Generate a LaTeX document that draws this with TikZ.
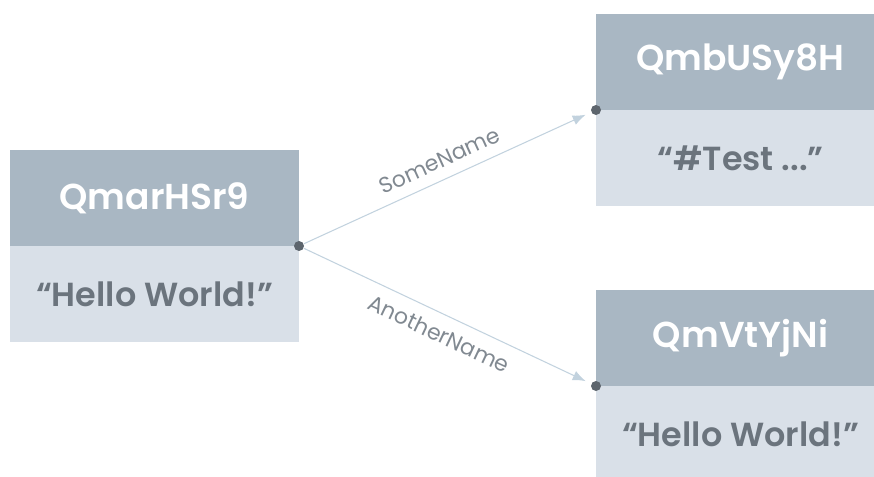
\documentclass[tikz,border=0pt]{standalone}
\usepackage{fontspec}
\IfFontExistsTF{Poppins SemiBold}
  {\setmainfont{Poppins}[BoldFont={Poppins SemiBold}]}
  {\setmainfont{Poppins}}
\usepackage{xcolor}
\definecolor{headgray}{HTML}{A9B7C3}
\definecolor{bodygray}{HTML}{D9E0E8}
\definecolor{textgray}{HTML}{6B747D}
\definecolor{linkblue}{HTML}{C2D2DE}
\definecolor{dotgray}{HTML}{5D656D}
\usetikzlibrary{arrows.meta,positioning}

\begin{document}
\begin{tikzpicture}[
  x=0.2mm,y=-0.2mm,
  hd/.style={fill=headgray,text=white,font=\fontsize{20.5}{24}\selectfont\bfseries,minimum width=57.8mm,minimum height=19.2mm,inner sep=0pt,outer sep=0pt},
  bd/.style={fill=bodygray,text=textgray,font=\fontsize{19}{22}\selectfont\bfseries,minimum width=57.8mm,minimum height=19.2mm,inner sep=0pt,outer sep=0pt},
  dt/.style={circle,fill=dotgray,inner sep=0pt,minimum size=2mm},
  ar/.style={-{Latex[length=2.6mm,width=2mm]},draw=linkblue,line width=0.6pt,shorten >=1.2mm},
  lb/.style={sloped,font=\fontsize{12.5}{15}\selectfont,text=textgray!85}
]
\useasboundingbox (0,0) rectangle (874,477);
\clip (0,0) rectangle (874,477);
\node[hd,anchor=north west] (hA) at (10,150) {QmarHSr9};
\node[bd,below=0pt of hA] (bA) {“Hello World!”};
\node[hd,anchor=north west] (hB) at (596,14) {QmbUSy8H};
\node[bd,below=0pt of hB] (bB) {“\#Test ...”};
\node[hd,anchor=north west] (hC) at (596,290) {QmVtYjNi};
\node[bd,below=0pt of hC] (bC) {“Hello World!”};
\node[dt] (dA) at (hA.south east) {};
\node[dt] (dB) at (hB.south west) {};
\node[dt] (dC) at (hC.south west) {};
\draw[ar] (dA) -- (dB) node[lb,midway,above=1mm] {SomeName};
\draw[ar] (dA) -- (dC) node[lb,midway,below=1mm] {AnotherName};
\end{tikzpicture}
\end{document}
